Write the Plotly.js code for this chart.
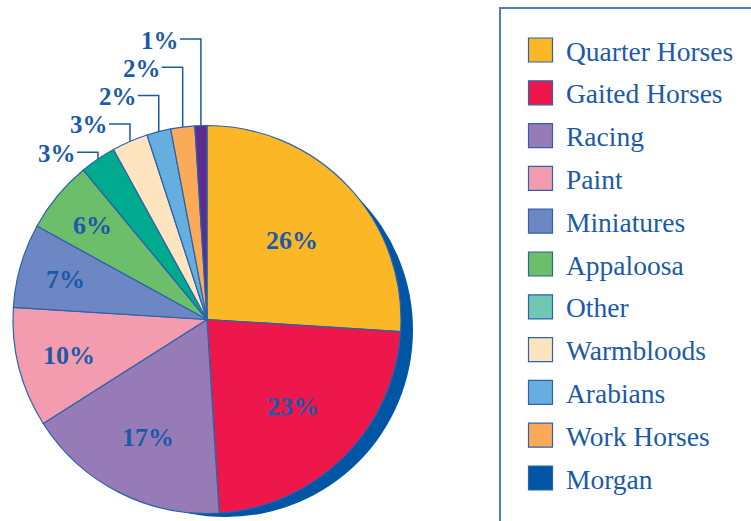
<!DOCTYPE html>
<html>
<head>
<meta charset="utf-8">
<script src="https://cdn.plot.ly/plotly-3.0.1.min.js"></script>
<style>html,body{margin:0;padding:0;background:#fff;}#chart{width:751px;height:521px;}</style>
</head>
<body>
<div id="chart"></div>
<script>
// ---- data ----
const categories = ["Quarter Horses","Gaited Horses","Racing","Paint","Miniatures","Appaloosa","Other","Warmbloods","Arabians","Work Horses","Morgan"];
const shares = [26,23,17,10,7,6,3,3,2,2,1];
const sliceColors = ["#FBB726","#ED174B","#967BB6","#F39CB0","#6D87C4","#6CBE6A","#00AA8E","#FEE5C0","#66AEE0","#FBAB57","#5A2D8F"];
const legendColors = ["#FBB726","#ED174B","#967BB6","#F39CB0","#6D87C4","#6CBE6A","#70C8B4","#FEE5C0","#66AEE0","#FBAB57","#0055A5"];

// ---- layout constants ----
const W = 751, H = 521;
const BLUE = "#1B5AA8";
const SERIF = "Liberation Serif, Times New Roman, serif";
const pie = {cx: 207, cy: 319.5, r: 194};
const shadow = {cx: 226, cy: 330, r: 187};
const px = x => x / W;
const py = y => 1 - y / H;
const domainOf = c => ({x: [px(c.cx - c.r), px(c.cx + c.r)], y: [py(c.cy + c.r), py(c.cy - c.r)]});

const total = shares.reduce((a, b) => a + b, 0);

const traces = [
  {
    type: "pie", values: [1], labels: ["shadow"], sort: false,
    marker: {colors: ["#0055A5"], line: {width: 0}},
    textinfo: "none", hoverinfo: "skip", showlegend: false,
    domain: domainOf(shadow)
  },
  {
    type: "pie", values: shares, labels: categories, sort: false,
    direction: "clockwise", rotation: 0,
    marker: {colors: sliceColors, line: {color: "#2A62AD", width: 1.2}},
    textinfo: "none",
    hoverinfo: "label+percent", showlegend: false,
    domain: domainOf(pie)
  }
];

const shapes = [];
const annotations = [];

// slice mid angles (clockwise from 12 o'clock)
let cum = 0;
const mids = shares.map(v => { const m = (cum + v / 2) / total * 2 * Math.PI; cum += v; return m; });

// inside labels for larger slices
shares.forEach((v, i) => {
  if (v < 5) return;
  const f = 0.82 - 0.0085 * v;
  const x = pie.cx + pie.r * f * Math.sin(mids[i]);
  const y = pie.cy - pie.r * f * Math.cos(mids[i]);
  annotations.push({
    xref: "paper", yref: "paper", x: px(x), y: py(y + 1),
    xanchor: "center", yanchor: "middle", showarrow: false,
    text: v + "%",
    font: {family: SERIF, size: 26, color: BLUE, weight: "bold"}
  });
});

// outside labels with elbow leader lines for small slices
const small = [];
shares.forEach((v, i) => { if (v < 5) small.push(i); });
small.reverse().forEach((i, k) => {
  const a = mids[i];
  const ex = pie.cx + pie.r * Math.sin(a);
  const ey = pie.cy - pie.r * Math.cos(a);
  const ly = 39 + 28.3 * k;
  const lx0 = ex - 21;
  shapes.push({
    type: "path", xref: "paper", yref: "paper",
    path: `M ${px(lx0)},${py(ly)} L ${px(ex)},${py(ly)} L ${px(ex)},${py(ey)}`,
    line: {color: BLUE, width: 1.5}
  });
  annotations.push({
    xref: "paper", yref: "paper", x: px(lx0 + 1), y: py(ly + 1),
    xanchor: "right", yanchor: "middle", showarrow: false,
    text: shares[i] + "%",
    font: {family: SERIF, size: 25, color: BLUE, weight: "bold"}
  });
});

// legend box
shapes.push({
  type: "rect", xref: "paper", yref: "paper",
  x0: px(500), x1: px(760), y0: py(530), y1: py(8),
  line: {color: "#4C7FC0", width: 2}, fillcolor: "rgba(0,0,0,0)"
});
categories.forEach((c, i) => {
  const yc = 50 + 42.8 * i;
  shapes.push({
    type: "rect", xref: "paper", yref: "paper",
    x0: px(528.5), x1: px(552.5), y0: py(yc + 12), y1: py(yc - 12),
    fillcolor: legendColors[i], line: {color: "#2F62AA", width: 1.2}
  });
  annotations.push({
    xref: "paper", yref: "paper", x: px(564), y: py(yc + 1),
    xanchor: "left", yanchor: "middle", showarrow: false,
    text: c, font: {family: SERIF, size: 27.5, color: BLUE}
  });
});

const layout = {
  width: W, height: H,
  margin: {l: 0, r: 0, t: 0, b: 0},
  paper_bgcolor: "#ffffff",
  showlegend: false,
  shapes: shapes,
  annotations: annotations
};

Plotly.newPlot("chart", traces, layout, {displayModeBar: false, staticPlot: true});
</script>
</body>
</html>
